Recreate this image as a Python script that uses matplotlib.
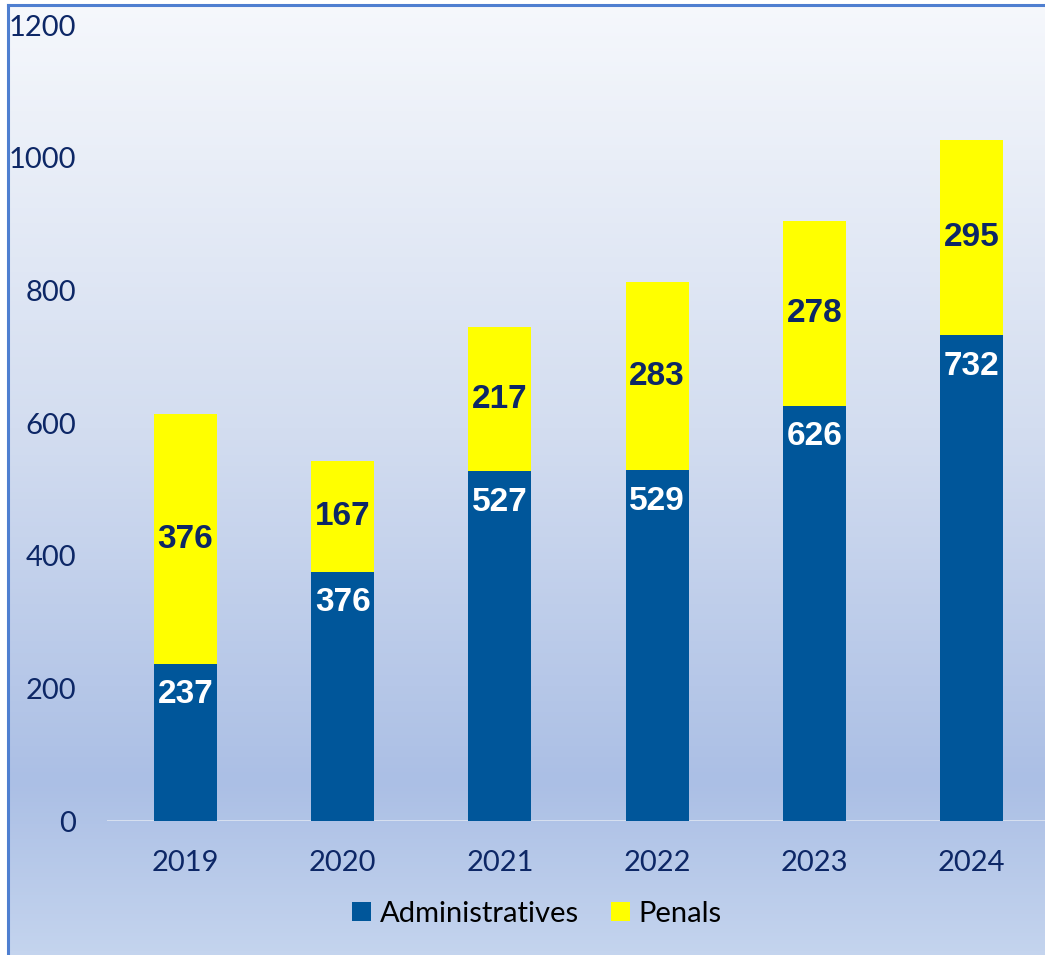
import numpy as np
import matplotlib
matplotlib.use('Agg')
import matplotlib.pyplot as plt
from matplotlib.colors import LinearSegmentedColormap
from matplotlib.patches import Rectangle

# Données du graphique
years = ['2019', '2020', '2021', '2022', '2023', '2024']
administratives = [237, 376, 527, 529, 626, 732]
penals = [376, 167, 217, 283, 278, 295]

blue = '#00569a'
yellow = '#ffff00'
navy = '#0d2766'

fig = plt.figure(figsize=(10.45, 9.55), dpi=100)

# fond dégradé
bg = fig.add_axes([0, 0, 1, 1], zorder=-10)
grad = LinearSegmentedColormap.from_list(
    'bg', [(0, '#f6f8fc'), (0.45, '#d3ddf0'), (0.82, '#abbfe5'), (1.0, '#c4d4ee')])
bg.imshow(np.linspace(0, 1, 256).reshape(-1, 1), aspect='auto', cmap=grad,
          extent=[0, 1, 0, 1], origin='upper')
bg.set_xlim(0, 1)
bg.set_ylim(0, 1)
bg.axis('off')
# cadre (haut et gauche)
bg.plot([8 / 1045, 8 / 1045], [0, 1 - 5 / 955], color='#4f7fd0', lw=2.2)
bg.plot([8 / 1045, 1], [1 - 5 / 955, 1 - 5 / 955], color='#4f7fd0', lw=2.2)
bg.add_patch(Rectangle((0, 0), 7 / 1045, 1, color='white', transform=bg.transAxes))
bg.add_patch(Rectangle((0, 1 - 4 / 955), 1, 4 / 955, color='white', transform=bg.transAxes))

ax = fig.add_axes([107 / 1045, 134 / 955, 943 / 1045, 796 / 955])
ax.patch.set_alpha(0)

x = np.arange(len(years))
b1 = ax.bar(x, administratives, width=0.4, color=blue, label='Administratives', zorder=3)
b2 = ax.bar(x, penals, width=0.4, bottom=administratives, color=yellow, label='Penals', zorder=3)

for rect, v in zip(b1, administratives):
    ax.annotate(str(v), (rect.get_x() + rect.get_width() / 2, rect.get_height()),
                xytext=(0, -31), textcoords='offset pixels', ha='center', va='center',
                color='white', fontsize=24, fontweight='bold', family='Liberation Sans', zorder=4)
for rect, a, v in zip(b2, administratives, penals):
    ax.text(rect.get_x() + rect.get_width() / 2, a + v / 2, str(v),
            ha='center', va='center', color=navy, fontsize=24, fontweight='bold',
            family='Liberation Sans', zorder=4)

ax.set_xlim(-0.5, 5.5)
ax.set_ylim(0, 1200)
ax.set_yticks(range(0, 1201, 200))
ax.set_xticks(x)
ax.set_xticklabels(years)
for s in ax.spines.values():
    s.set_visible(False)
ax.axhline(0, color='#dbe3f1', lw=2, zorder=2)
ax.tick_params(length=0, labelsize=21, labelcolor=navy)
ax.tick_params(axis='x', pad=21)
ax.tick_params(axis='y', pad=22)
for lab in ax.get_xticklabels() + ax.get_yticklabels():
    lab.set_family('Lato')

leg = fig.legend(loc='center', bbox_to_anchor=(537 / 1045, 41 / 955), ncol=2,
                 frameon=False, prop={'family': 'Lato', 'size': 21},
                 handlelength=0.65, handleheight=0.65, handletextpad=0.3,
                 columnspacing=1.1)

fig.savefig('out.png', dpi=100)
